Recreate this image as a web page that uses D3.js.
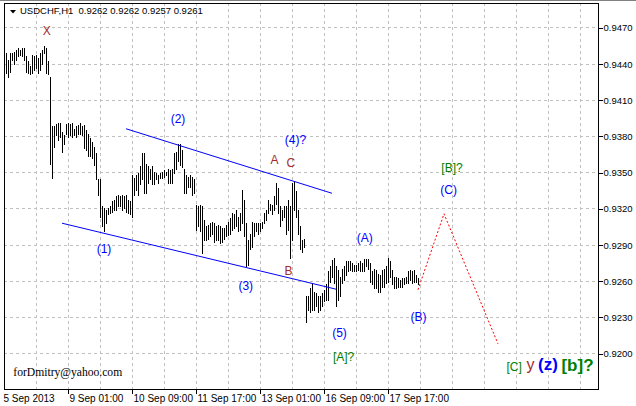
<!DOCTYPE html>
<html><head><meta charset="utf-8">
<script src="https://cdn.jsdelivr.net/npm/d3@7/dist/d3.min.js"></script>
<style>
html,body{margin:0;padding:0;background:#fff;}
svg{display:block;}
</style></head><body>
<svg id="c" width="636" height="406"></svg>
<script>
// ---------- data ----------
const symbolTitle = "USDCHF,H1  0.9262 0.9262 0.9257 0.9261";
const timeTickLabels = ["5 Sep 2013","9 Sep 01:00","10 Sep 09:00","11 Sep 17:00","13 Sep 01:00","16 Sep 09:00","17 Sep 17:00"];
const timeTickBars = [0,32,64,96,128,160,192];
const priceTicks = [0.9200,0.9230,0.9260,0.9290,0.9320,0.9350,0.9380,0.9410,0.9440,0.9470];
const firstBar = 1;
const highs = [
0.9449,0.9443,0.9449,0.9449,0.9450,0.9451,0.9453,0.9451,0.9453,0.9453,
0.9446,0.9442,0.9438,0.9447,0.9446,0.9447,0.9445,0.9449,0.9451,0.9455,
0.9453,0.9442,0.9429,0.9388,0.9388,0.9390,0.9391,0.9391,0.9383,0.9381,
0.9390,0.9391,0.9390,0.9391,0.9386,0.9388,0.9389,0.9391,0.9388,0.9389,
0.9385,0.9382,0.9378,0.9375,0.9371,0.9366,0.9344,0.9344,0.9322,0.9320,
0.9319,0.9320,0.9322,0.9326,0.9327,0.9330,0.9331,0.9330,0.9331,0.9330,
0.9331,0.9327,0.9326,0.9348,0.9345,0.9348,0.9349,0.9355,0.9366,0.9366,
0.9357,0.9355,0.9353,0.9355,0.9350,0.9349,0.9348,0.9349,0.9350,0.9352,
0.9350,0.9353,0.9352,0.9353,0.9366,0.9367,0.9373,0.9373,0.9368,0.9353,
0.9348,0.9346,0.9348,0.9346,0.9344,0.9323,0.9322,0.9323,0.9322,0.9310,
0.9305,0.9306,0.9308,0.9309,0.9308,0.9305,0.9306,0.9305,0.9304,0.9304,
0.9306,0.9309,0.9312,0.9316,0.9315,0.9319,0.9313,0.9316,0.9335,0.9327,
0.9308,0.9294,0.9299,0.9309,0.9308,0.9308,0.9308,0.9308,0.9309,0.9316,
0.9319,0.9327,0.9324,0.9323,0.9330,0.9341,0.9337,0.9322,0.9319,0.9322,
0.9322,0.9327,0.9322,0.9341,0.9342,0.9334,0.9319,0.9305,0.9294,0.9295,
0.9247,0.9247,0.9254,0.9257,0.9251,0.9250,0.9247,0.9247,0.9250,0.9252,
0.9257,0.9268,0.9272,0.9277,0.9279,0.9272,0.9269,0.9263,0.9270,0.9272,
0.9276,0.9276,0.9276,0.9275,0.9273,0.9273,0.9275,0.9276,0.9275,0.9278,
0.9278,0.9278,0.9275,0.9268,0.9270,0.9269,0.9266,0.9265,0.9269,0.9270,
0.9272,0.9279,0.9276,0.9269,0.9263,0.9263,0.9262,0.9261,0.9262,0.9262,
0.9263,0.9268,0.9269,0.9268,0.9269,0.9265,0.9262];
const lows = [
0.9432,0.9429,0.9433,0.9443,0.9440,0.9443,0.9446,0.9447,0.9446,0.9443,
0.9433,0.9432,0.9431,0.9432,0.9435,0.9436,0.9432,0.9435,0.9440,0.9449,
0.9432,0.9431,0.9357,0.9345,0.9371,0.9381,0.9377,0.9379,0.9367,0.9373,
0.9382,0.9379,0.9381,0.9379,0.9381,0.9379,0.9382,0.9382,0.9381,0.9370,
0.9368,0.9363,0.9363,0.9362,0.9356,0.9344,0.9331,0.9313,0.9305,0.9301,
0.9308,0.9315,0.9316,0.9317,0.9319,0.9319,0.9322,0.9322,0.9319,0.9320,
0.9317,0.9316,0.9315,0.9313,0.9331,0.9335,0.9331,0.9340,0.9344,0.9333,
0.9333,0.9341,0.9344,0.9340,0.9340,0.9344,0.9341,0.9345,0.9345,0.9346,
0.9348,0.9341,0.9341,0.9341,0.9349,0.9353,0.9359,0.9356,0.9354,0.9333,
0.9333,0.9338,0.9338,0.9331,0.9333,0.9302,0.9305,0.9301,0.9283,0.9294,
0.9294,0.9295,0.9297,0.9299,0.9292,0.9294,0.9294,0.9291,0.9292,0.9295,
0.9297,0.9298,0.9299,0.9302,0.9304,0.9305,0.9301,0.9302,0.9308,0.9297,
0.9272,0.9273,0.9286,0.9288,0.9297,0.9301,0.9299,0.9301,0.9304,0.9308,
0.9310,0.9316,0.9319,0.9315,0.9319,0.9324,0.9316,0.9305,0.9310,0.9313,
0.9299,0.9302,0.9279,0.9294,0.9319,0.9313,0.9299,0.9286,0.9284,0.9288,
0.9226,0.9236,0.9234,0.9236,0.9236,0.9239,0.9234,0.9236,0.9239,0.9243,
0.9244,0.9244,0.9259,0.9263,0.9258,0.9239,0.9244,0.9247,0.9258,0.9261,
0.9265,0.9268,0.9269,0.9268,0.9268,0.9268,0.9269,0.9268,0.9268,0.9268,
0.9272,0.9270,0.9259,0.9257,0.9254,0.9254,0.9251,0.9251,0.9255,0.9255,
0.9258,0.9259,0.9263,0.9257,0.9254,0.9254,0.9255,0.9255,0.9255,0.9257,
0.9258,0.9258,0.9261,0.9258,0.9259,0.9259,0.9257];
// trend channel (bar index, price)
const upperChannel = [[61,0.93860],[164,0.93325]];
const lowerChannel = [[29,0.93077],[166,0.92530]];
// projected path
const projection = [[207,0.92525],[220,0.93155],[247,0.92077]];
// wave labels (text, bar index, price, kind)
const waveText  = ["X","(2)","(4)?","A","C","B","(1)","(3)","(A)","(5)","[A]?","(B)","[B]?","(C)","[C]","y","(z)","[b]?"];
const waveBar   = [21.35,87,145.7,135.25,143.4,142.2,50,120.9,180.35,167.75,169.8,207.3,224,222.3,255.1,263.2,272,286.75];
const wavePrice = [0.94638,0.93911,0.93735,0.93569,0.93546,0.92649,0.92827,0.92525,0.92918,0.92135,0.91936,0.92264,0.93498,0.93316,0.91853,0.91857,0.91859,0.91849];
const waveKind  = ["brown","blue","blue","brown","brown","brown","blue","blue","blue","blue","green","blue","green","blue","green","brownBig","blueBig","greenBig"];
const signature = "forDmitry@yahoo.com";

// ---------- drawing ----------
const W = 636, H = 406;
const L = 4, R = 598, T = 3.3, B = 389.3;
const svg = d3.select("#c");
const x = d3.scaleLinear().domain([0, 297]).range([L, R]);
const y = d3.scaleLinear().domain([0.9170, 0.9490]).range([B, T]);
const font = "'Liberation Sans', Arial, sans-serif";

svg.append("rect").attr("width", W).attr("height", H).attr("fill", "#fff");

// grid
const grid = svg.append("g").attr("stroke", "#c0c0c0").attr("stroke-dasharray", "3,3").attr("shape-rendering", "crispEdges");
const vGrid = d3.range(16, 297, 16);
grid.selectAll("line.v").data(vGrid).join("line")
  .attr("x1", d => Math.round(x(d)) + 0.5).attr("x2", d => Math.round(x(d)) + 0.5)
  .attr("y1", Math.round(T)).attr("y2", Math.round(B));
grid.selectAll("line.h").data(priceTicks).join("line")
  .attr("y1", d => Math.round(y(d)) + 0.5).attr("y2", d => Math.round(y(d)) + 0.5)
  .attr("x1", L).attr("x2", R);

// bars
const bars = highs.map((h, k) => ({i: firstBar + k, h, l: lows[k]}));
svg.append("g").attr("fill", "#000").attr("shape-rendering", "crispEdges")
  .selectAll("rect").data(bars).join("rect")
  .attr("x", d => Math.round(x(d.i)))
  .attr("width", 1)
  .attr("y", d => Math.round(y(d.h)))
  .attr("height", d => Math.max(1, Math.round(y(d.l)) - Math.round(y(d.h)) + 1));

// channel lines
const line = d3.line().x(d => x(d[0])).y(d => y(d[1]));
[upperChannel, lowerChannel].forEach(c => {
  svg.append("path").attr("d", line(c)).attr("fill", "none").attr("stroke", "#0000ff").attr("stroke-width", 1);
});
// projection
svg.append("path").attr("d", line(projection)).attr("fill", "none")
  .attr("stroke", "#ff0000").attr("stroke-width", 1).attr("stroke-dasharray", "2,2");

// labels
const kindStyle = {
  blue:     {fill: "#0000ff", size: 12, weight: "normal"},
  brown:    {fill: "#a52a2a", size: 12, weight: "normal"},
  green:    {fill: "#008000", size: 12, weight: "normal"},
  brownBig: {fill: "#a52a2a", size: 16, weight: "normal"},
  blueBig:  {fill: "#0000ff", size: 17, weight: "bold"},
  greenBig: {fill: "#008000", size: 17, weight: "bold"}
};
svg.append("g").selectAll("text").data(waveText.map((t, k) => ({t, b: waveBar[k], p: wavePrice[k], s: kindStyle[waveKind[k]]})))
  .join("text")
  .attr("x", d => x(d.b)).attr("y", d => y(d.p))
  .attr("text-anchor", "middle")
  .attr("font-family", font).attr("font-size", d => d.s.size).attr("font-weight", d => d.s.weight)
  .attr("fill", d => d.s.fill)
  .text(d => d.t);

svg.append("text").attr("x", 13.3).attr("y", 375.5)
  .attr("font-family", "'Liberation Serif', 'Times New Roman', serif").attr("font-size", 11.6)
  .attr("fill", "#000").text(signature);

// frame
svg.append("rect").attr("x", L + 0.5).attr("y", Math.round(T) + 0.5)
  .attr("width", R - L).attr("height", Math.round(B) - Math.round(T))
  .attr("fill", "none").attr("stroke", "#000").attr("shape-rendering", "crispEdges");
svg.append("line").attr("x1", 0).attr("x2", W).attr("y1", 0.5).attr("y2", 0.5).attr("stroke", "#808080");

// y axis
const yAxis = d3.axisRight(y).tickValues(priceTicks).tickSize(4).tickPadding(1).tickFormat(d3.format(".4f"));
const gy = svg.append("g").attr("transform", `translate(${R + 0.5},0.5)`).call(yAxis);
gy.select(".domain").remove();
gy.selectAll("text").attr("font-family", font).attr("font-size", 9.5).attr("fill", "#000");
gy.selectAll("line").attr("stroke", "#000").attr("shape-rendering", "crispEdges");

// x axis
const gx = svg.append("g").attr("transform", `translate(0.5,${Math.round(B) + 0.5})`);
const xt = gx.selectAll("g").data(timeTickBars.map((b, k) => ({b, t: timeTickLabels[k], k}))).join("g")
  .attr("transform", d => `translate(${Math.round(x(d.b))},0)`);
xt.append("line").attr("y1", 0).attr("y2", 4).attr("stroke", "#000").attr("shape-rendering", "crispEdges")
  .attr("display", d => d.k === 0 ? "none" : null);
xt.append("text").attr("x", d => d.k === 0 ? -1 : 1).attr("y", 12)
  .attr("font-family", font).attr("font-size", 10).attr("fill", "#000")
  .text(d => d.t);

// title
svg.append("path").attr("d", "M10,10 L16,10 L13,13.5 Z").attr("fill", "#000");
svg.append("text").attr("x", 20).attr("y", 14).attr("font-family", font).attr("font-size", 9.5)
  .attr("fill", "#000").attr("xml:space", "preserve").style("white-space", "pre").text(symbolTitle);
</script>
</body></html>
